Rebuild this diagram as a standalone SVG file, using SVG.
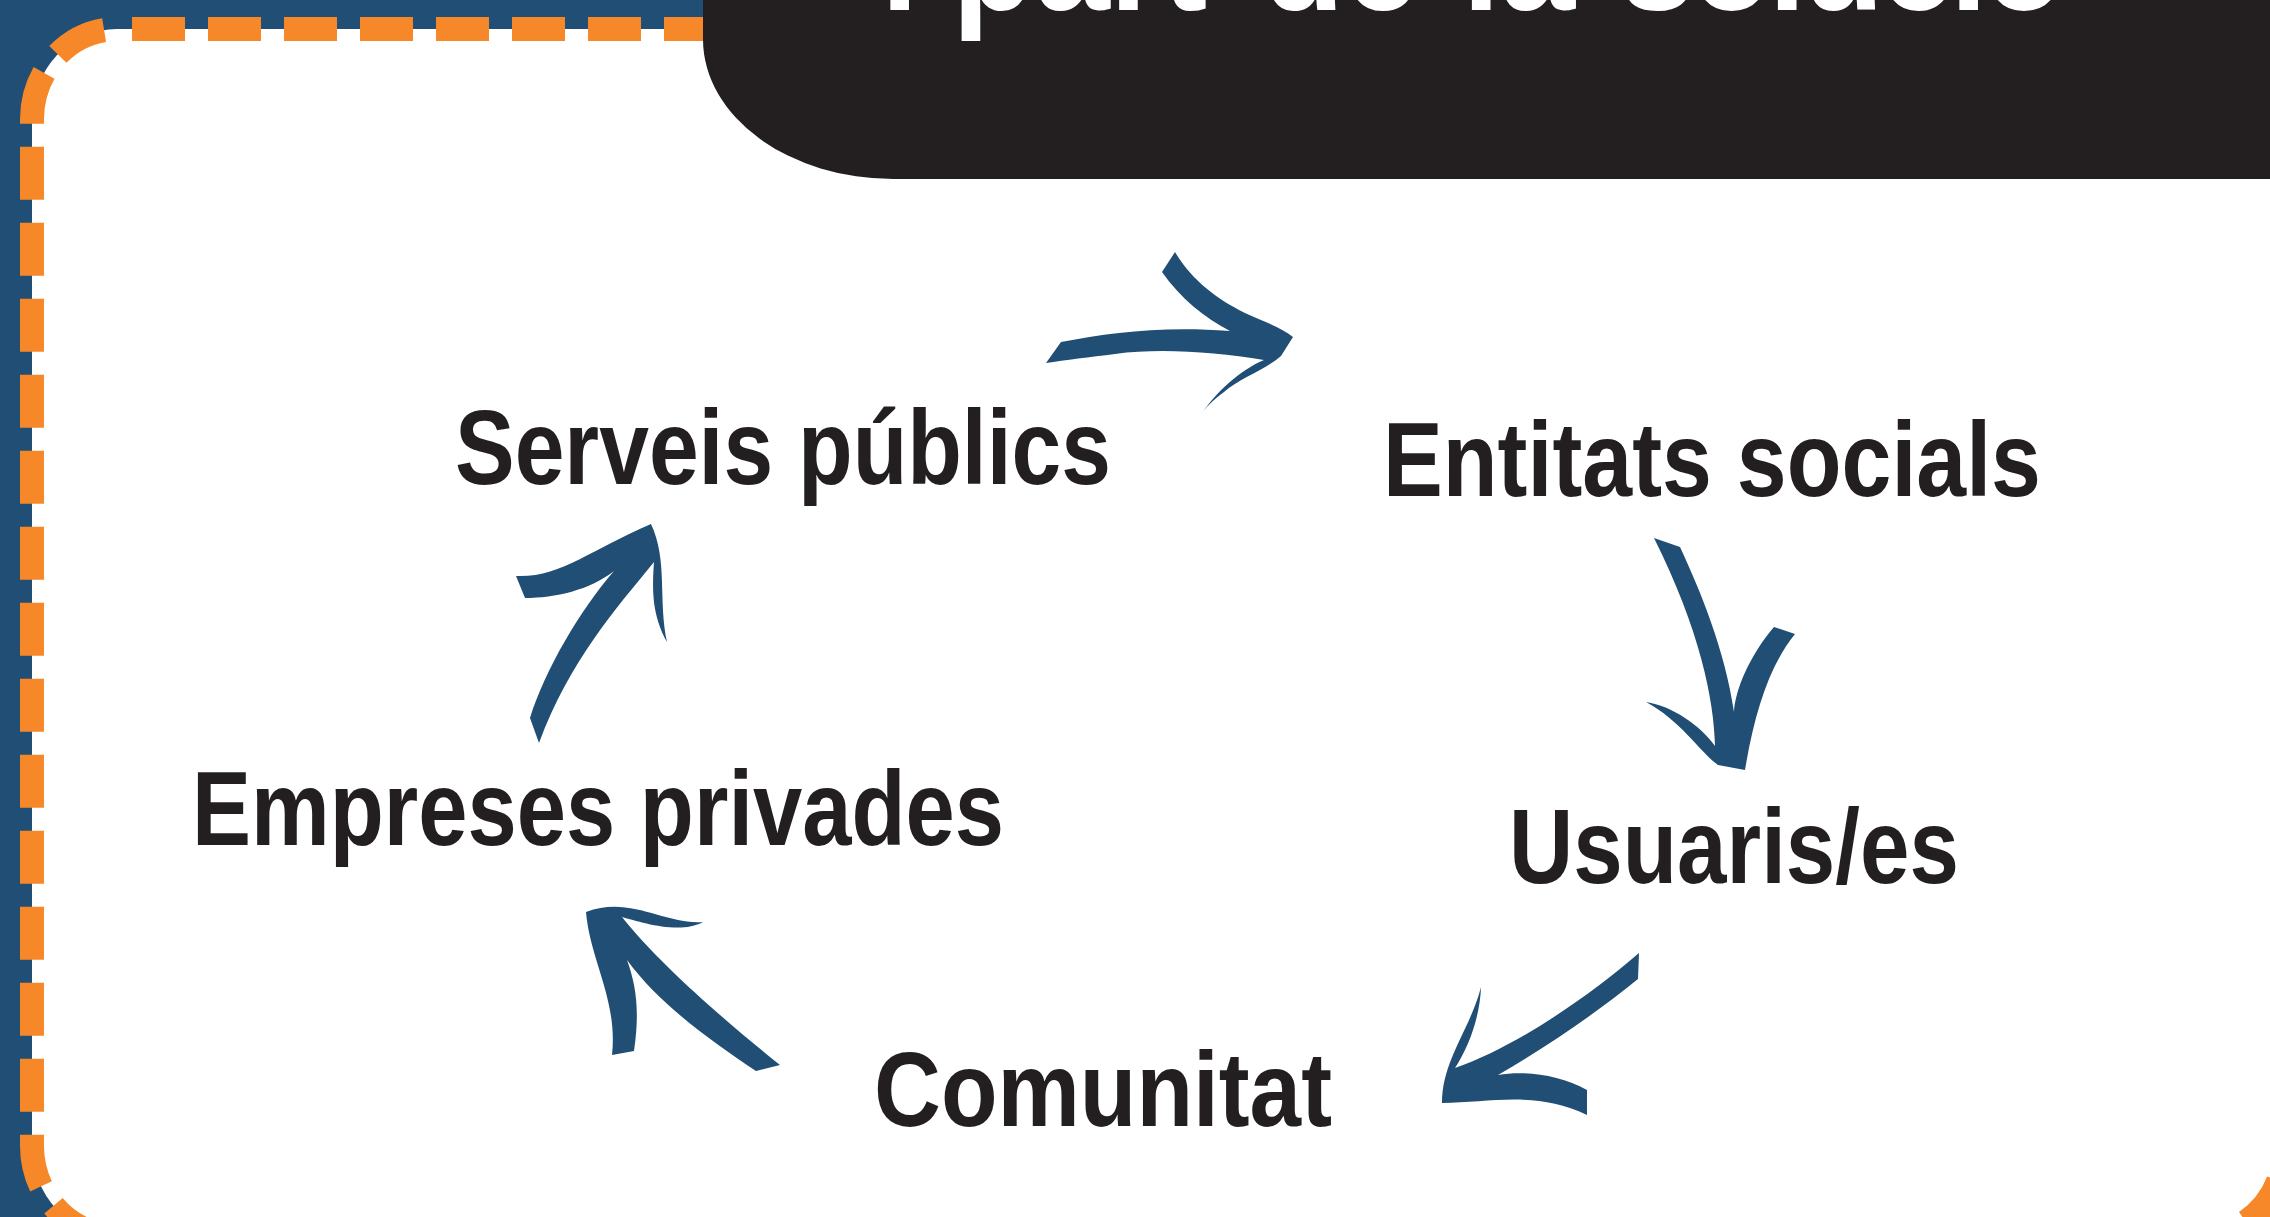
<svg xmlns="http://www.w3.org/2000/svg" width="2270" height="1217" viewBox="0 0 2270 1217">
<style>
.lbl{font-family:"Liberation Sans",Arial,sans-serif;font-weight:bold;font-size:106px;fill:#231f20}
.arr{fill:#214e74}
.title{font-family:"Liberation Sans",Arial,sans-serif;font-weight:bold;font-size:150px;fill:#ffffff}
</style>
<rect x="0" y="0" width="2270" height="1217" fill="#214e74"/>
<rect x="32" y="29" width="2253" height="1207" rx="85" ry="90" fill="#ffffff"/>
<rect x="32" y="29" width="2253" height="1207" rx="85" ry="90" fill="none" stroke="#f6882a" stroke-width="24" stroke-dasharray="53 23" stroke-dashoffset="61"/>
<g id="title">
<path d="M703 0 L703 40 A190 140 0 0 0 893 179 L2270 179 L2270 0 Z" fill="#231f20"/>
<text class="title" transform="scale(0.9,1)" y="10"><tspan x="979">i</tspan><tspan x="1058">part</tspan><tspan x="1402">de</tspan><tspan x="1625">la</tspan><tspan x="1800" style="letter-spacing:-5px">solució</tspan></text>
</g>
<g id="connectors">
<path class="arr" d="M1046 363 L1061 342 C1110 333 1160 326 1230 331 C1205 318 1180 298 1162 272 L1175 252 C1192 280 1215 298 1245 313 C1265 322 1282 328 1293 337 L1281 356 C1265 370 1240 378 1224 392 C1213 400 1205 408 1201 415 C1215 393 1240 370 1264 360 C1215 352 1160 348 1115 354 C1090 357 1065 360 1046 363 Z"/>
<path class="arr" d="M1654 538 L1680 547 C1700 590 1725 650 1734 712 C1735 690 1750 655 1774 627 L1795 634 C1770 665 1755 710 1745 770 L1718 765 C1700 752 1680 720 1646 702 C1672 706 1700 725 1715 746 C1714 700 1700 630 1654 538 Z"/>
<path class="arr" d="M1639 953 C1590 995 1520 1045 1455 1068 C1470 1045 1480 1015 1481 987 C1470 1030 1442 1060 1442 1103 C1490 1103 1535 1090 1587 1115 L1587 1090 C1560 1075 1525 1070 1498 1075 C1550 1045 1600 1010 1638 979 Z"/>
<path class="arr" d="M780 1065 C730 1025 660 965 622 917 C640 922 680 935 703 922 C665 925 630 895 586 912 C590 960 618 1000 612 1055 L634 1051 C640 1010 636 985 627 960 C660 1005 710 1040 756 1071 Z"/>
<path class="arr" d="M530 718 C545 670 580 610 614 571 C590 590 555 598 525 598 L516 576 C560 578 590 550 651 524 C668 560 658 600 667 642 C652 615 652 590 654 562 C615 610 570 660 539 743 Z"/>
</g>
<g id="node-serveis"><text class="lbl" x="455" y="484" textLength="656" lengthAdjust="spacingAndGlyphs">Serveis públics</text></g>
<g id="node-entitats"><text class="lbl" x="1383" y="496" textLength="658" lengthAdjust="spacingAndGlyphs">Entitats socials</text></g>
<g id="node-usuaris"><text class="lbl" x="1509" y="883" textLength="450" lengthAdjust="spacingAndGlyphs">Usuaris/es</text></g>
<g id="node-comunitat"><text class="lbl" x="874" y="1126" textLength="458" lengthAdjust="spacingAndGlyphs">Comunitat</text></g>
<g id="node-empreses"><text class="lbl" x="192" y="845" textLength="812" lengthAdjust="spacingAndGlyphs">Empreses privades</text></g>
</svg>
